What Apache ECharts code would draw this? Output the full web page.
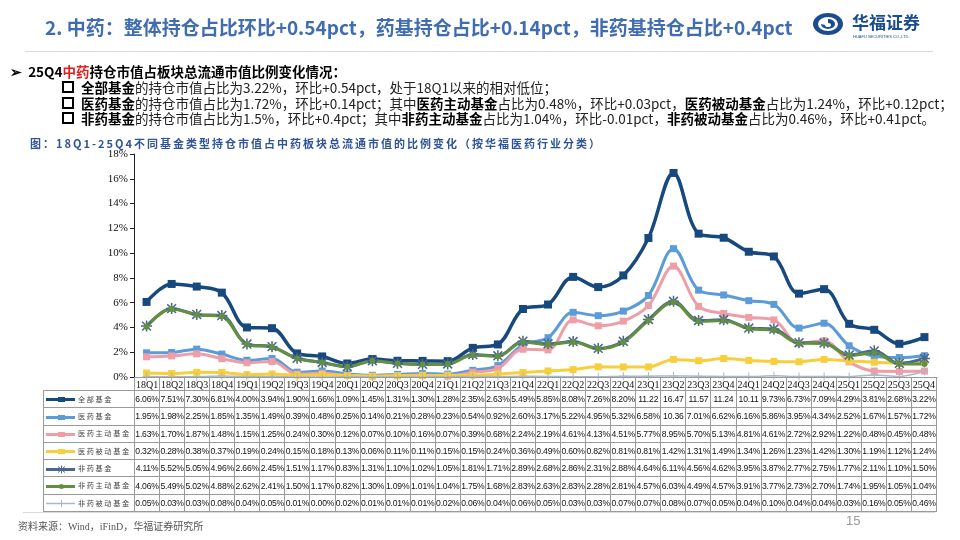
<!DOCTYPE html>
<html>
<head>
<meta charset="utf-8">
<script src="https://cdn.jsdelivr.net/npm/echarts@6/dist/echarts.min.js"></script>
<style>
  body { margin: 0; width: 960px; height: 540px; background: #fff; position: relative; overflow: hidden;
         font-family: "Noto Sans CJK SC", "Noto Sans", sans-serif; }
  #chart { position: absolute; left: 0; top: 0; width: 960px; height: 540px; }
  .abs { position: absolute; white-space: nowrap; }
  #title { left: 45px; top: 13px; font-size: 19px; font-weight: bold; color: #3f6db0; }
  #rule1 { left: 25px; top: 51px; width: 908px; height: 1px; background: #d9d9d9; }
  #logo { left: 812px; top: 11px; }
  .b1 { left: 10px; top: 61px; font-size: 13.5px; font-weight: bold; color: #000; }
  .sub { left: 62px; font-size: 13.5px; color: #222; }
  .sub b { color: #000; }
  .box { display: inline-block; width: 8px; height: 8px; border: 2px solid #000; margin-right: 7px; vertical-align: 0px; }
  #caption { left: 30px; top: 135px; font-size: 11px; color: #2f5597; letter-spacing: 2px; font-weight: bold; }
  #tbl { position: absolute; left: 43px; top: 377px; border-collapse: collapse; table-layout: fixed; width: 894px; }
  #tbl td { border: 1px solid #9a9a9a; padding: 0; text-align: center; overflow: hidden; white-space: nowrap;
            font-family: "Liberation Sans", sans-serif; font-size: 8.6px; color: #111; letter-spacing: -0.2px; }
  #tbl tr.hd td { height: 12px; font-family: "Liberation Serif", serif; font-size: 10px; letter-spacing: 0; }
  #tbl tr.rw td { height: 16.3px; }
  #tbl td.lab { text-align: left; font-family: "Noto Sans CJK SC", sans-serif; font-size: 7.2px; color: #444; letter-spacing: 1.6px; }
  #tbl td.lab svg { vertical-align: middle; margin: 0 3px 0 1px; }
  #tbl td.blank { border-top: none; border-left: none; }
  #rule2 { left: 23px; top: 512px; width: 912px; height: 1px; background: #d9d9d9; }
  #src { left: 18px; top: 518px; font-size: 10px; color: #555; font-family: "Liberation Serif", "Noto Sans CJK SC", serif; }
  #pg { left: 846px; top: 513px; font-size: 13px; color: #999; font-family: "Liberation Sans", sans-serif; }
</style>
</head>
<body>
<div id="chart"></div>

<div class="abs" id="title">2. 中药：整体持仓占比环比+0.54pct，药基持仓占比+0.14pct，非药基持仓占比+0.4pct</div>
<div class="abs" id="logo">
  <svg width="120" height="30" viewBox="0 0 120 30">
    <ellipse cx="16" cy="13" rx="15" ry="11" fill="#1a4d8f"/>
    <ellipse cx="16" cy="13" rx="10" ry="7" fill="#fff"/>
    <path d="M9,13 a7,5 0 1 0 7,-5 l0,4 a3,2 0 1 1 -3,2 z" fill="#1a4d8f"/>
    <text x="40" y="18" font-family="Liberation Serif, Noto Sans CJK SC" font-size="17" font-weight="bold" fill="#1a4d8f">华福证券</text>
    <text x="41" y="27" font-family="Liberation Sans" font-size="4" fill="#1a4d8f">HUAFU SECURITIES CO.,LTD.</text>
  </svg>
</div>
<div class="abs" id="rule1"></div>

<div class="abs b1">➢&nbsp; 25Q4<span style="color:#e0201c">中药</span>持仓市值占板块总流通市值比例变化情况：</div>
<div class="abs sub" style="top:77px"><span class="box"></span><b>全部基金</b>的持仓市值占比为3.22%，环比+0.54pct，处于18Q1以来的相对低位；</div>
<div class="abs sub" style="top:93px"><span class="box"></span><b>医药基金</b>的持仓市值占比为1.72%，环比+0.14pct；其中<b>医药主动基金</b>占比为0.48%，环比+0.03pct，<b>医药被动基金</b>占比为1.24%，环比+0.12pct；</div>
<div class="abs sub" style="top:108px"><span class="box"></span><b>非药基金</b>的持仓市值占比为1.5%，环比+0.4pct；其中<b>非药主动基金</b>占比为1.04%，环比-0.01pct，<b>非药被动基金</b>占比为0.46%，环比+0.41pct。</div>

<div class="abs" id="caption">图：18Q1-25Q4不同基金类型持仓市值占中药板块总流通市值的比例变化（按华福医药行业分类）</div>

<table id="tbl"></table>

<div class="abs" id="rule2"></div>
<div class="abs" id="src">资料来源：Wind，iFinD，华福证券研究所</div>
<div class="abs" id="pg">15</div>

<script>
const categories = ['18Q1','18Q2','18Q3','18Q4','19Q1','19Q2','19Q3','19Q4','20Q1','20Q2','20Q3','20Q4',
  '21Q1','21Q2','21Q3','21Q4','22Q1','22Q2','22Q3','22Q4','23Q1','23Q2','23Q3','23Q4',
  '24Q1','24Q2','24Q3','24Q4','25Q1','25Q2','25Q3','25Q4'];

const allFunds = [6.06,7.51,7.30,6.81,4.00,3.94,1.90,1.66,1.09,1.45,1.31,1.30,1.28,2.35,2.63,5.49,
  5.85,8.08,7.26,8.20,11.22,16.47,11.57,11.24,10.11,9.73,6.73,7.09,4.29,3.81,2.68,3.22];
const medFunds = [1.95,1.98,2.25,1.85,1.35,1.49,0.39,0.48,0.25,0.14,0.21,0.28,0.23,0.54,0.92,2.60,
  3.17,5.22,4.95,5.32,6.58,10.36,7.01,6.62,6.16,5.86,3.95,4.34,2.52,1.67,1.57,1.72];
const medActive = [1.63,1.70,1.87,1.48,1.15,1.25,0.24,0.30,0.12,0.07,0.10,0.16,0.07,0.39,0.68,2.24,
  2.19,4.61,4.13,4.51,5.77,8.95,5.70,5.13,4.81,4.61,2.72,2.92,1.22,0.48,0.45,0.48];
const medPassive = [0.32,0.28,0.38,0.37,0.19,0.24,0.15,0.18,0.13,0.06,0.11,0.11,0.15,0.15,0.24,0.36,
  0.49,0.60,0.82,0.81,0.81,1.42,1.31,1.49,1.34,1.26,1.23,1.42,1.30,1.19,1.12,1.24];
const nonMedFunds = [4.11,5.52,5.05,4.96,2.66,2.45,1.51,1.17,0.83,1.31,1.10,1.02,1.05,1.81,1.71,2.89,
  2.68,2.86,2.31,2.88,4.64,6.11,4.56,4.62,3.95,3.87,2.77,2.75,1.77,2.11,1.10,1.50];
const nonMedActive = [4.06,5.49,5.02,4.88,2.62,2.41,1.50,1.17,0.82,1.30,1.09,1.01,1.04,1.75,1.68,2.83,
  2.63,2.83,2.28,2.81,4.57,6.03,4.49,4.57,3.91,3.77,2.73,2.70,1.74,1.95,1.05,1.04];
const nonMedPassive = [0.05,0.03,0.03,0.08,0.04,0.05,0.01,0.00,0.02,0.01,0.01,0.01,0.02,0.06,0.04,0.06,
  0.05,0.03,0.03,0.07,0.07,0.08,0.07,0.05,0.04,0.10,0.04,0.04,0.03,0.16,0.05,0.46];

const yTicks = [0, 2, 4, 6, 8, 10, 12, 14, 16, 18];

// asterisk marker for 非药基金
const starPath = 'path://M-0.7,-5L0.7,-5L0.7,5L-0.7,5Z M-5,-0.7L5,-0.7L5,0.7L-5,0.7Z ' +
  'M-3.5,-4.5L4.5,3.5L3.5,4.5L-4.5,-3.5Z M3.5,-4.5L4.5,-3.5L-3.5,4.5L-4.5,3.5Z';
const plusPath = 'path://M-0.5,-4L0.5,-4L0.5,4L-0.5,4Z M-4,-0.5L4,-0.5L4,0.5L-4,0.5Z';

const seriesDefs = [
  { name: '全部基金', data: allFunds, color: '#17497f', width: 3.5, symbol: 'rect', size: 8 },
  { name: '医药基金', data: medFunds, color: '#5b9bd9', width: 3, symbol: 'rect', size: 7 },
  { name: '医药主动基金', data: medActive, color: '#ee9ea6', width: 3, symbol: 'rect', size: 7 },
  { name: '医药被动基金', data: medPassive, color: '#f7cf3c', width: 3, symbol: 'rect', size: 7 },
  { name: '非药基金', data: nonMedFunds, color: '#4a6790', width: 3, symbol: starPath, size: 11 },
  { name: '非药主动基金', data: nonMedActive, color: '#62903f', width: 3, symbol: 'circle', size: 6 },
  { name: '非药被动基金', data: nonMedPassive, color: '#a8b8ca', width: 1.5, symbol: plusPath, size: 8 }
];

// table below the plot
function fmt(v) { return v >= 10 ? v.toFixed(2) : v.toFixed(2) + '%'; }
function icon(d) {
  let m;
  if (d.symbol === 'rect') m = '<rect x="13" y="2" width="7" height="5" fill="' + d.color + '"/>';
  else if (d.symbol === 'circle') m = '<circle cx="16.5" cy="4.5" r="2.5" fill="' + d.color + '"/>';
  else if (d.symbol === starPath) m = '<path d="M13,1.5L20,7.5M20,1.5L13,7.5M16.5,0.5V8.5M12.5,4.5H20.5" stroke="' + d.color + '" stroke-width="1"/>';
  else m = '<path d="M16.5,1V8M13,4.5H20" stroke="' + d.color + '" stroke-width="1"/>';
  return '<svg width="30" height="9"><line x1="1" y1="4.5" x2="31" y2="4.5" stroke="' + d.color +
    '" stroke-width="' + Math.min(d.width, 3) + '"/>' + m + '</svg>';
}
let html = '<colgroup><col style="width:91px">' + categories.map(() => '<col>').join('') + '</colgroup>';
html += '<tr class="hd"><td class="blank"></td>' + categories.map(c => '<td>' + c + '</td>').join('') + '</tr>';
seriesDefs.forEach(d => {
  html += '<tr class="rw"><td class="lab">' + icon(d) + d.name + '</td>' +
    d.data.map(v => '<td>' + fmt(v) + '</td>').join('') + '</tr>';
});
document.getElementById('tbl').innerHTML = html;

const chart = echarts.init(document.getElementById('chart'));
chart.setOption({
  animation: false,
  grid: { left: 134, right: 23, top: 154, bottom: 163 },
  xAxis: {
    type: 'category',
    data: categories,
    boundaryGap: true,
    axisLine: { show: true, lineStyle: { color: '#9a9a9a', width: 1 } },
    axisTick: { show: false },
    axisLabel: { show: false }
  },
  yAxis: {
    type: 'value',
    min: yTicks[0],
    max: yTicks[yTicks.length - 1],
    interval: 2,
    splitLine: { show: false },
    axisLine: { show: true, lineStyle: { color: '#222', width: 1 } },
    axisTick: { show: true, length: 4, lineStyle: { color: '#222' } },
    axisLabel: {
      formatter: v => v + '%',
      fontFamily: 'Liberation Serif',
      fontSize: 11,
      color: '#111',
      margin: 6
    }
  },
  series: seriesDefs.map(d => ({
    name: d.name,
    type: 'line',
    data: d.data,
    smooth: 0.35,
    symbol: d.symbol,
    symbolSize: d.size,
    showAllSymbol: true,
    lineStyle: { color: d.color, width: d.width },
    itemStyle: { color: d.color },
    emphasis: { disabled: true }
  }))
});
</script>
</body>
</html>
